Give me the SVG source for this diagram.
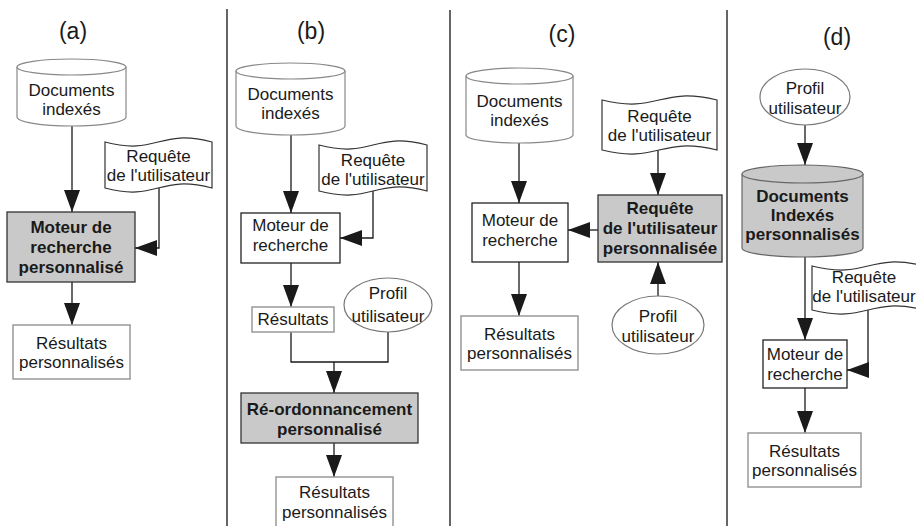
<svg xmlns="http://www.w3.org/2000/svg" width="916" height="526" viewBox="0 0 916 526">
  <defs>
    <marker id="arrow" markerUnits="userSpaceOnUse" markerWidth="22" markerHeight="16" refX="22" refY="8" orient="auto">
      <path d="M0,0 L22,8 L0,16 z" fill="#1a1a1a"/>
    </marker>
  </defs>
  <style>
    text { font-family: "Liberation Sans", Arial, sans-serif; font-size: 17px; fill: #1a1a1a; text-anchor: middle; }
    .title { font-size: 23px; }
    .bold { font-weight: bold; }
    .sep { stroke: #666; stroke-width: 2; }
    .cyl { fill: #fff; stroke: #888; stroke-width: 1.2; }
    .cylg { fill: #c9c9c9; stroke: #666; stroke-width: 1.2; }
    .doc { fill: #fff; stroke: #333; stroke-width: 1.2; }
    .ell { fill: #fff; stroke: #777; stroke-width: 1.2; }
    .proc { fill: #fff; stroke: #222; stroke-width: 1.3; }
    .procg { fill: #c9c9c9; stroke: #333; stroke-width: 1.3; }
    .res { fill: #fff; stroke: #999; stroke-width: 1.5; }
    .conn { fill: none; stroke: #1a1a1a; stroke-width: 1.3; }
    .arr { marker-end: url(#arrow); }
  </style>

  <!-- panel separators -->
  <g id="separators">
    <line class="sep" x1="227" y1="9" x2="227" y2="526"/>
    <line class="sep" x1="450" y1="10" x2="450" y2="526"/>
    <line class="sep" x1="727" y1="10" x2="727" y2="526"/>
  </g>

  <!-- panel titles -->
  <g id="titles">
    <text class="title" x="73" y="39">(a)</text>
    <text class="title" x="311" y="39">(b)</text>
    <text class="title" x="562" y="42">(c)</text>
    <text class="title" x="837" y="45">(d)</text>
  </g>

  <!-- connectors -->
  <g id="connectors">
    <!-- (a) -->
    <path class="conn arr" d="M72,126 L72,212"/>
    <path class="conn arr" d="M159,188 L159,248 L135,248"/>
    <path class="conn arr" d="M72,282 L72,325"/>
    <!-- (b) -->
    <path class="conn arr" d="M291,135 L291,213"/>
    <path class="conn arr" d="M373,190 L373,238 L340,238"/>
    <path class="conn arr" d="M291,263 L291,307"/>
    <path class="conn" d="M291,332 L291,362 L388,362 L388,332"/>
    <path class="conn arr" d="M334,362 L334,393"/>
    <path class="conn arr" d="M334,443 L334,477"/>
    <!-- (c) -->
    <path class="conn arr" d="M519,143 L519,203"/>
    <path class="conn arr" d="M519,262 L519,316"/>
    <path class="conn arr" d="M658,150 L658,195"/>
    <path class="conn arr" d="M598,230 L568,230"/>
    <path class="conn arr" d="M658,296 L658,262"/>
    <!-- (d) -->
    <path class="conn arr" d="M805,125 L805,165"/>
    <path class="conn arr" d="M805,257 L805,340"/>
    <path class="conn arr" d="M868,310 L868,370 L847,370"/>
    <path class="conn arr" d="M805,388 L805,433"/>
  </g>

  <!-- (a) -->
  <g id="a-documents">
    <path class="cyl" d="M17,67 L17,117 A54.5,9 0 0 0 126,117 L126,67"/>
    <ellipse class="cyl" cx="71.5" cy="67" rx="54.5" ry="8"/>
    <text x="71.5" y="96">Documents</text>
    <text x="71.5" y="115">indexés</text>
  </g>
  <g id="a-requete">
    <path class="doc" d="M105,142 C158,156 158,128 212,142 L212,188 C158,174 158,202 105,188 Z"/>
    <text x="158.5" y="162">Requête</text>
    <text x="158.5" y="181">de l'utilisateur</text>
  </g>
  <g id="a-moteur">
    <rect class="procg" x="7" y="212" width="128" height="70"/>
    <text class="bold" x="71" y="233">Moteur de</text>
    <text class="bold" x="71" y="253">recherche</text>
    <text class="bold" x="71" y="273">personnalisé</text>
  </g>
  <g id="a-resultats">
    <rect class="res" x="13" y="325" width="117" height="54"/>
    <text x="71.5" y="349">Résultats</text>
    <text x="71.5" y="368">personnalisés</text>
  </g>

  <!-- (b) -->
  <g id="b-documents">
    <path class="cyl" d="M236,71 L236,126 A54.5,9 0 0 0 345,126 L345,71"/>
    <ellipse class="cyl" cx="290.5" cy="71" rx="54.5" ry="8"/>
    <text x="290.5" y="100">Documents</text>
    <text x="290.5" y="119">indexés</text>
  </g>
  <g id="b-requete">
    <path class="doc" d="M319,145 C373,159 373,131 427,145 L427,191 C373,177 373,205 319,191 Z"/>
    <text x="373" y="166">Requête</text>
    <text x="373" y="185">de l'utilisateur</text>
  </g>
  <g id="b-moteur">
    <rect class="proc" x="241" y="213" width="99" height="50"/>
    <text x="290.5" y="231">Moteur de</text>
    <text x="290.5" y="251">recherche</text>
  </g>
  <g id="b-resultats">
    <rect class="res" x="252" y="307" width="82" height="25"/>
    <text x="293" y="325">Résultats</text>
  </g>
  <g id="b-profil">
    <ellipse class="ell" cx="388" cy="305" rx="44" ry="27"/>
    <text x="388" y="299">Profil</text>
    <text x="388" y="322">utilisateur</text>
  </g>
  <g id="b-reordonnancement">
    <rect class="procg" x="241" y="393" width="177" height="50"/>
    <text class="bold" x="329.5" y="415">Ré-ordonnancement</text>
    <text class="bold" x="329.5" y="435">personnalisé</text>
  </g>
  <g id="b-resultats-perso">
    <rect class="res" x="276" y="477" width="117" height="54"/>
    <text x="334.5" y="498">Résultats</text>
    <text x="334.5" y="518">personnalisés</text>
  </g>

  <!-- (c) -->
  <g id="c-documents">
    <path class="cyl" d="M466,76 L466,135 A53.5,8 0 0 0 573,135 L573,76"/>
    <ellipse class="cyl" cx="519.5" cy="76" rx="53.5" ry="8"/>
    <text x="519.5" y="107">Documents</text>
    <text x="519.5" y="126">indexés</text>
  </g>
  <g id="c-requete">
    <path class="doc" d="M602,100 C659,114 659,86 717,100 L717,150 C659,136 659,164 602,150 Z"/>
    <text x="659.5" y="122">Requête</text>
    <text x="659.5" y="141">de l'utilisateur</text>
  </g>
  <g id="c-moteur">
    <rect class="proc" x="472" y="203" width="96" height="59"/>
    <text x="520" y="226">Moteur de</text>
    <text x="520" y="246">recherche</text>
  </g>
  <g id="c-requete-perso">
    <rect class="procg" x="598" y="195" width="124" height="67"/>
    <text class="bold" x="660" y="214">Requête</text>
    <text class="bold" x="660" y="234">de l'utilisateur</text>
    <text class="bold" x="660" y="254">personnalisée</text>
  </g>
  <g id="c-resultats">
    <rect class="res" x="461" y="316" width="117" height="54"/>
    <text x="519.5" y="340">Résultats</text>
    <text x="519.5" y="359">personnalisés</text>
  </g>
  <g id="c-profil">
    <ellipse class="ell" cx="658" cy="325" rx="46" ry="29"/>
    <text x="658" y="322">Profil</text>
    <text x="658" y="342">utilisateur</text>
  </g>

  <!-- (d) -->
  <g id="d-profil">
    <ellipse class="ell" cx="805" cy="97" rx="45" ry="28"/>
    <text x="805" y="94">Profil</text>
    <text x="805" y="114">utilisateur</text>
  </g>
  <g id="d-documents">
    <path class="cylg" d="M742,174 L742,248 A60.5,9 0 0 0 863,248 L863,174"/>
    <ellipse class="cylg" cx="802.5" cy="174" rx="60.5" ry="9"/>
    <text class="bold" x="802.5" y="202">Documents</text>
    <text class="bold" x="802.5" y="221">Indexés</text>
    <text class="bold" x="802.5" y="240">personnalisés</text>
  </g>
  <g id="d-requete">
    <path class="doc" d="M812,266 C868,280 868,252 924,266 L924,310 C868,296 868,324 812,310 Z"/>
    <text x="864" y="283">Requête</text>
    <text x="864" y="302">de l'utilisateur</text>
  </g>
  <g id="d-moteur">
    <rect class="proc" x="763" y="340" width="84" height="48"/>
    <text x="805" y="360">Moteur de</text>
    <text x="805" y="380">recherche</text>
  </g>
  <g id="d-resultats">
    <rect class="res" x="748" y="433" width="113" height="54"/>
    <text x="804.5" y="457">Résultats</text>
    <text x="804.5" y="476">personnalisés</text>
  </g>
</svg>
